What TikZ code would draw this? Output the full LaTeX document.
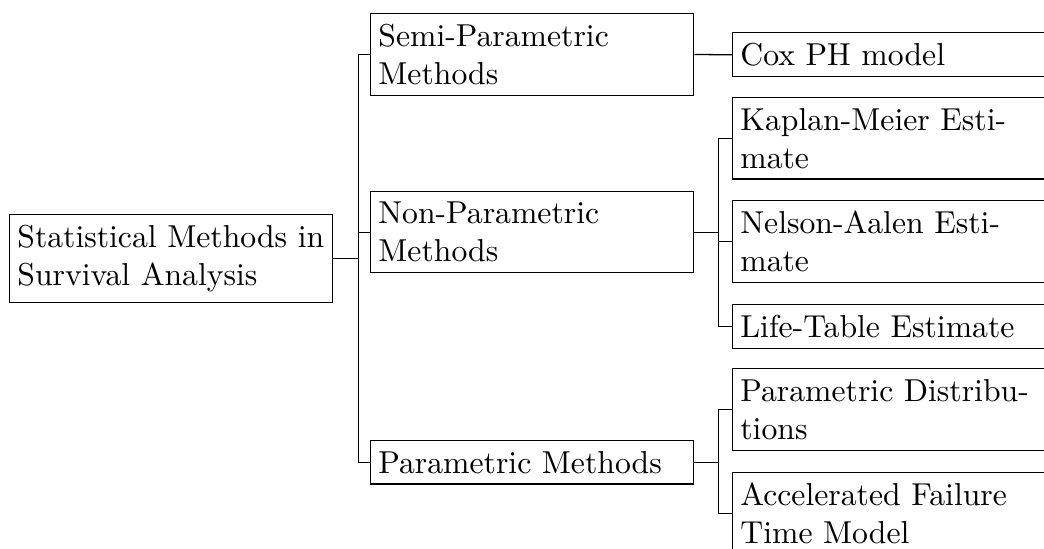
\documentclass[tikz,border=0pt]{standalone}
\usetikzlibrary{calc}
\begin{document}
\begin{tikzpicture}[x=0.31546pt,y=-0.31546pt,
  box/.style={draw, text width=97pt, align=left, anchor=north west, inner xsep=2.45pt, inner ysep=3.33pt},
  link/.style={draw, line width=0.4pt}]
\useasboundingbox (0,0) rectangle (1044,549);
\clip (0,0) rectangle (1044,549);
\node[box] (root) at (9,214) {Statistical Methods in\\Survival Analysis};
\node[box] (semi) at (370,13) {Semi-Parametric\\Methods};
\node[box] (non) at (370,191) {Non-Parametric\\Methods};
\node[box] (par) at (370,440) {Parametric Methods};
\node[box] (cox) at (732,32) {Cox PH model};
\node[box] (km) at (732,97) {Kaplan-Meier Esti-\\mate};
\node[box] (na) at (732,200) {Nelson-Aalen Esti-\\mate};
\node[box] (lt) at (732,304) {Life-Table Estimate};
\node[box] (pd) at (732,368) {Parametric Distribu-\\tions};
\node[box] (aft) at (732,472) {Accelerated Failure\\Time Model};
\coordinate (rf) at ($(root.east)+(25,0)$);
\coordinate (nf) at ($(non.east)+(24,0)$);
\coordinate (pf) at ($(par.east)+(24,0)$);
\draw[link] (root.east) -- (rf) |- (semi.west);
\draw[link] (rf) |- (non.west);
\draw[link] (rf) |- (par.west);
\draw[link] (semi.east) -- (cox.west);
\draw[link] (non.east) -- (nf) |- (km.west);
\draw[link] (nf) |- (na.west);
\draw[link] (nf) |- (lt.west);
\draw[link] (par.east) -- (pf) |- (pd.west);
\draw[link] (pf) |- (aft.west);
\end{tikzpicture}
\end{document}
